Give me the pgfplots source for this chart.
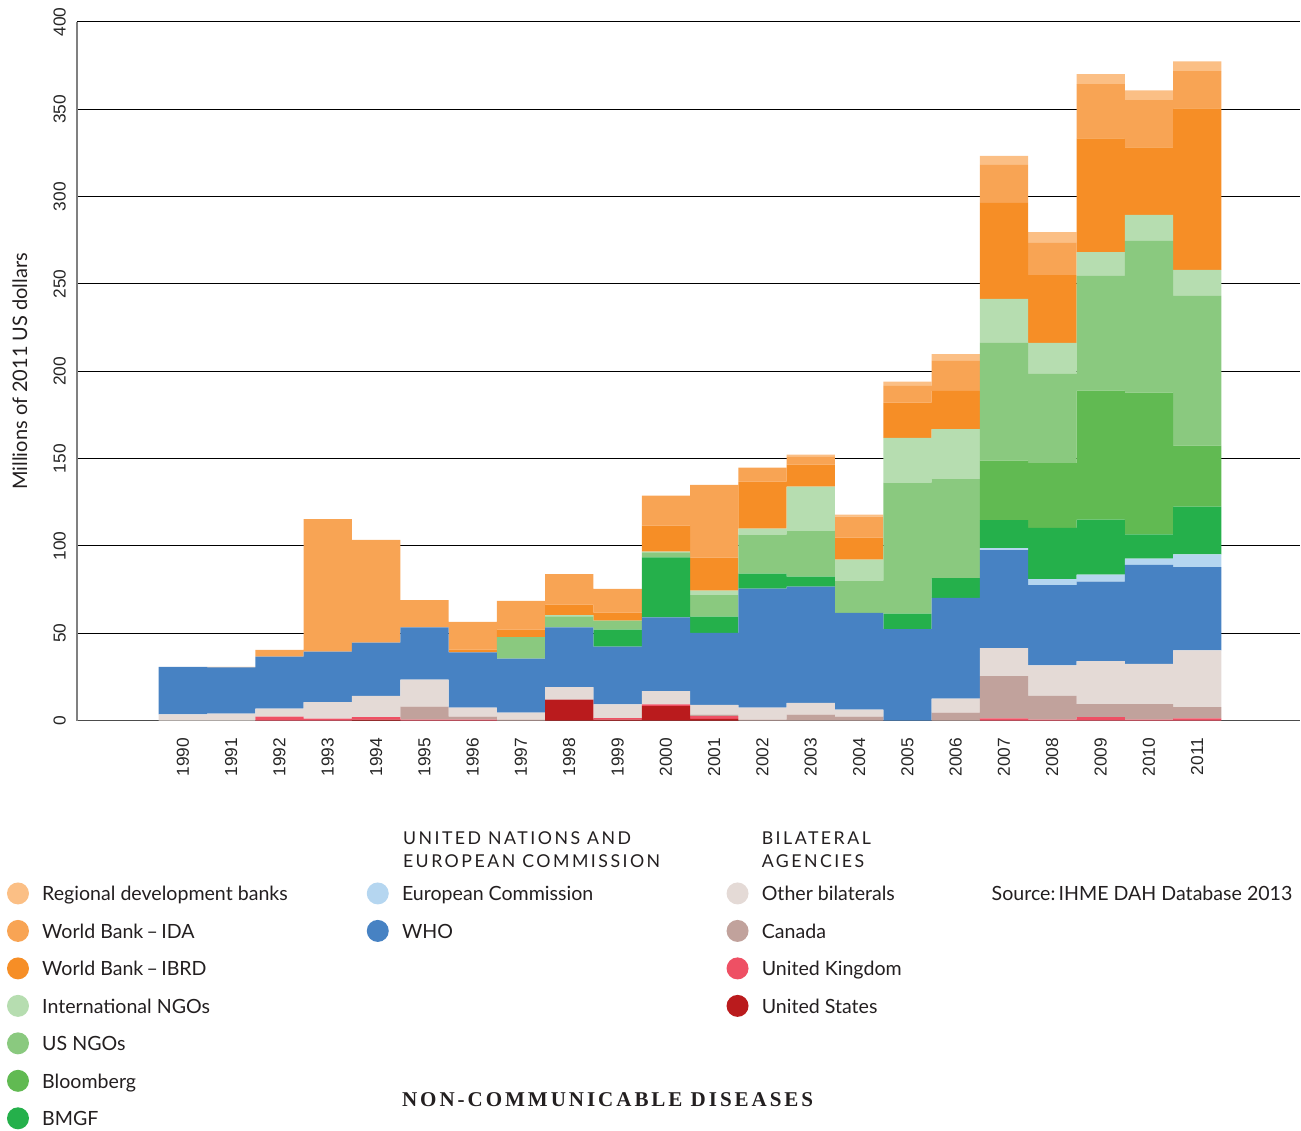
\documentclass[border=0pt]{standalone}
\usepackage{fontspec}
\setmainfont{Lato}
\newfontfamily\tickfont{Liberation Sans}
\newfontfamily\titlefont[LetterSpace=14]{Liberation Serif}
\newfontfamily\headfont[LetterSpace=14]{Lato}
\usepackage{pgfplots}
\usepackage{pgfplotstable}
\pgfplotsset{compat=1.18}

\definecolor{cRDB}{HTML}{FBBF85}
\definecolor{cIDA}{HTML}{F8A454}
\definecolor{cIBRD}{HTML}{F68E26}
\definecolor{cINT}{HTML}{B6DDB0}
\definecolor{cUSN}{HTML}{8AC97F}
\definecolor{cBL}{HTML}{61BA52}
\definecolor{cBMGF}{HTML}{25B04B}
\definecolor{cEC}{HTML}{B5D6F0}
\definecolor{cWHO}{HTML}{4782C3}
\definecolor{cOB}{HTML}{E4DAD6}
\definecolor{cCA}{HTML}{C1A29C}
\definecolor{cUK}{HTML}{EE5064}
\definecolor{cUS}{HTML}{BA1B1D}
\definecolor{txt}{HTML}{231F20}

\pgfplotstableread{
year US UK CA OB WHO EC BMGF BL USN INT IBRD IDA RDB
1990 0 0 0 3.5 27.2 0 0 0 0 0 0 0 0
1991 0 0 0 4.0 26.5 0 0 0 0 0 0 0.3 0
1992 0 2.3 0 4.6 29.7 0 0 0 0 0 0 3.8 0
1993 0 1.1 0 9.4 29.0 0 0 0 0 0 0 75.9 0
1994 0.5 1.5 0 12.1 30.5 0 0 0 0 0 0 58.8 0
1995 0 0.6 7.4 15.5 29.9 0 0 0 0 0 0 15.6 0
1996 0 0.5 1.8 5.1 31.7 0 0 0 0 0 1.5 15.9 0
1997 0 0 0.6 4.0 30.9 0 0 0 12.2 0 4.4 16.4 0
1998 12.0 0 0 7.1 34.3 0 0 0 6.3 0.6 6.1 17.5 0
1999 0.5 0.9 0 7.8 33.1 0 9.8 0 5.1 0 4.6 13.6 0
2000 8.2 1.1 0 7.6 42.2 0 34.4 0 2.8 0.4 14.9 17.2 0
2001 1.0 1.5 0.9 5.6 41.2 0 9.3 0 12.6 2.3 18.9 41.7 0
2002 0 0 0.5 6.9 68.1 0 8.6 0 22.3 3.5 26.9 8.0 0
2003 0 0 3.4 6.7 66.6 0 5.7 0 26.3 25.2 12.6 4.8 0.9
2004 0 0 2.3 4.0 55.3 0 0 0 18.5 12.0 12.6 12.0 1.2
2005 0 0 0 0 52.3 0 8.9 0 75.0 25.7 20.1 9.7 2.3
2006 0 0 4.5 8.1 57.7 0 11.3 0 56.6 28.7 21.8 17.3 3.8
2007 0 1.3 24.1 16.1 56.1 1.1 16.0 34.2 67.3 25.3 54.9 21.8 5.1
2008 0 0.5 13.6 17.5 46.0 3.4 29.3 37.1 51.1 17.7 38.9 18.4 6.2
2009 0 2.0 7.4 24.6 45.6 3.9 31.5 73.9 65.7 13.6 65.2 31.0 5.7
2010 0 0.5 8.9 23.1 56.7 3.5 13.9 81.1 87.0 14.8 38.7 27.0 5.7
2011 0 1.2 6.5 32.5 47.6 7.4 27.3 34.9 85.8 14.9 92.4 21.3 5.7
}\datatable

\begin{document}
\begin{tikzpicture}
\begin{axis}[
  at={(57.75pt,307.5pt)}, anchor=south west,
  width=918pt, height=524.25pt, scale only axis,
  xmin=1987.807, xmax=2013.131, ymin=0, ymax=400,
  enlargelimits=false,
  ybar stacked, bar width=1,
  xtick={1990,...,2011},
  xticklabels={1990,1991,1992,1993,1994,1995,1996,1997,1998,1999,2000,2001,2002,2003,2004,2005,2006,2007,2008,2009,2010,2011},
  ytick={0,50,...,400},
  ymajorgrids, grid style={black, line width=0.75pt},
  axis x line*=bottom, axis y line*=left,
  x axis line style={black!70, line width=1.2pt, -},
  y axis line style={black!50, line width=1.1pt, -},
  major tick length=0pt,
  tick label style={font=\tickfont\fontsize{13}{13}\selectfont, text=black!85},
  /pgf/number format/assume math mode=true,
  yticklabel style={rotate=90, anchor=south, inner sep=0pt},
  yticklabel shift=8.25pt,
  xticklabel style={rotate=90, anchor=east, inner sep=0pt},
  xticklabel shift=12.75pt,
  ylabel={Millions of 2011 US dollars},
  ylabel style={at={(axis description cs:-0.0466,0.5)}, anchor=center, font=\fontsize{15}{16}\selectfont, text=txt},
]
\addplot[fill=cUS, draw=none] table[x=year,y=US]{\datatable};
\addplot[fill=cUK, draw=none] table[x=year,y=UK]{\datatable};
\addplot[fill=cCA, draw=none] table[x=year,y=CA]{\datatable};
\addplot[fill=cOB, draw=none] table[x=year,y=OB]{\datatable};
\addplot[fill=cWHO, draw=none] table[x=year,y=WHO]{\datatable};
\addplot[fill=cEC, draw=none] table[x=year,y=EC]{\datatable};
\addplot[fill=cBMGF, draw=none] table[x=year,y=BMGF]{\datatable};
\addplot[fill=cBL, draw=none] table[x=year,y=BL]{\datatable};
\addplot[fill=cUSN, draw=none] table[x=year,y=USN]{\datatable};
\addplot[fill=cINT, draw=none] table[x=year,y=INT]{\datatable};
\addplot[fill=cIBRD, draw=none] table[x=year,y=IBRD]{\datatable};
\addplot[fill=cIDA, draw=none] table[x=year,y=IDA]{\datatable};
\addplot[fill=cRDB, draw=none] table[x=year,y=RDB]{\datatable};
\end{axis}

\begin{scope}[x=0.75pt,y=0.75pt, every node/.style={text=txt, font=\fontsize{14.7}{16}\selectfont, inner sep=0pt}]
\path[use as bounding box] (0,0) rectangle (1301,1131);
% column 1
\foreach \c/\t [count=\i from 0] in {cRDB/Regional development banks, cIDA/World Bank\,--\,IDA, cIBRD/World Bank\,--\,IBRD, cINT/International NGOs, cUSN/US NGOs, cBL/Bloomberg, cBMGF/BMGF}{
  \pgfmathsetmacro{\yy}{1131-894-37.5*\i}
  \fill[\c] (18,\yy) circle (11);
  \node[anchor=mid west] at (42,\yy-4) {\t};
}
% column 2
\node[anchor=base west, font=\headfont\fontsize{13.3}{14}\selectfont] at (403,1131-845) {UNITED NATIONS AND};
\node[anchor=base west, font=\headfont\fontsize{13.3}{14}\selectfont] at (403,1131-868) {EUROPEAN COMMISSION};
\foreach \c/\t [count=\i from 0] in {cEC/European Commission, cWHO/WHO}{
  \pgfmathsetmacro{\yy}{1131-894-37.5*\i}
  \fill[\c] (378,\yy) circle (11);
  \node[anchor=mid west] at (402,\yy-4) {\t};
}
% column 3
\node[anchor=base west, font=\headfont\fontsize{13.3}{14}\selectfont] at (762,1131-845) {BILATERAL};
\node[anchor=base west, font=\headfont\fontsize{13.3}{14}\selectfont] at (762,1131-868) {AGENCIES};
\foreach \c/\t [count=\i from 0] in {cOB/Other bilaterals, cCA/Canada, cUK/United Kingdom, cUS/United States}{
  \pgfmathsetmacro{\yy}{1131-894-37.5*\i}
  \fill[\c] (738,\yy) circle (11);
  \node[anchor=mid west] at (762,\yy-4) {\t};
}
% source
\node[anchor=mid west] at (992,1131-898) {Source:\,IHME DAH Database 2013};
% title
\node[anchor=center, font=\titlefont\bfseries\fontsize{15.8}{16}\selectfont] at (608,1131-1100) {NON-COMMUNICABLE DISEASES};
\end{scope}
\end{tikzpicture}
\end{document}
